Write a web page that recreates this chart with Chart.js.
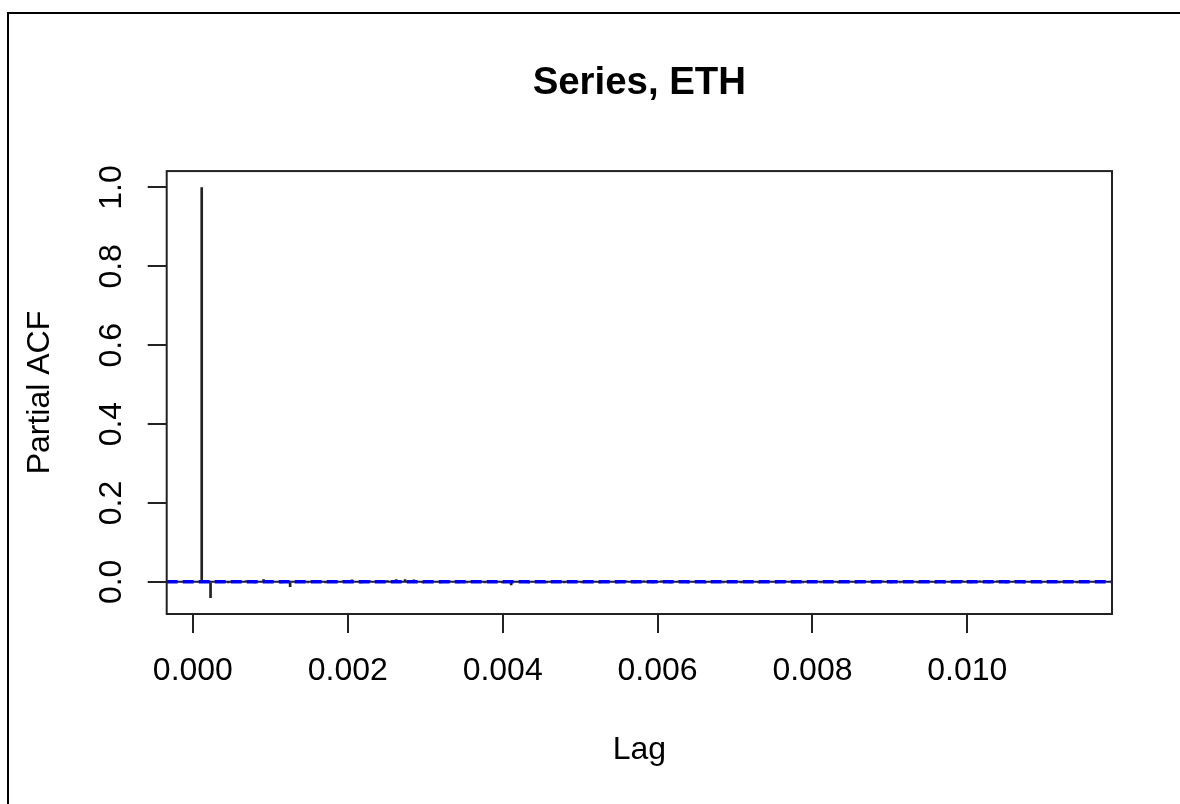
<!DOCTYPE html>
<html>
<head>
<meta charset="utf-8">
<script src="https://cdn.jsdelivr.net/npm/chart.js@4.4.1/dist/chart.umd.min.js"></script>
<style>
  html, body { margin: 0; padding: 0; background: #fff; overflow: hidden; }
  #frame { position: absolute; left: 7px; top: 12px; width: 2000px; height: 2000px;
           border-left: 2px solid #000; border-top: 2px solid #000; }
  #c { position: absolute; left: 0; top: 0; }
</style>
</head>
<body>
<div id="frame"></div>
<canvas id="c" width="1180" height="804"></canvas>
<script>
// ---- data ----
const titleText = 'Series, ETH';
const xTitle = 'Lag';
const yTitle = 'Partial ACF';
const frequency = 8760;            // hourly series: lag k is k / 8760
const confLimit = 0.002;           // +/- bound drawn as blue dashed lines
const pacfValues = [
  1.000, -0.040, 0.002, -0.001, 0.001, 0.002, -0.001, 0.006, 0.001, -0.002,
  -0.012, 0.001, -0.003, 0.001, -0.002, 0.001, 0.002, 0.005, -0.001, 0.002,
  0.001, 0.003, 0.006, 0.006, 0.005, -0.002, 0.001, -0.002, 0.001, -0.001,
  -0.003, 0.001, -0.002, 0.001, -0.001, -0.008, 0.001, -0.002, 0.001, -0.001,
  0.002, -0.001, 0.001, -0.002, 0.001, -0.001, 0.002, -0.001, 0.001, -0.002,
  0.001, -0.001, 0.001, -0.002, 0.001, -0.003, 0.001, -0.001, 0.002, -0.003,
  0.001, -0.001, 0.001, -0.002, 0.001, -0.001, 0.002, -0.001, -0.003, 0.001,
  -0.003, 0.001, -0.001, 0.002, -0.001, 0.001, -0.002, 0.001, -0.001, -0.003,
  0.001, -0.001, 0.002, -0.001, -0.003, 0.001, 0.003, -0.001, 0.001, -0.002,
  0.001, -0.001, 0.002, -0.003, 0.001, -0.003, 0.001, -0.001, 0.002, -0.001
];
const xTicks = [0.000, 0.002, 0.004, 0.006, 0.008, 0.010];
const yTicks = [0.0, 0.2, 0.4, 0.6, 0.8, 1.0];

// lag positions (categories)
const lags = pacfValues.map((_, i) => (i + 1) / frequency);

// R-style 4% axis extension
const xLo = lags[0], xHi = lags[lags.length - 1];
const xMin = xLo - 0.04 * (xHi - xLo), xMax = xHi + 0.04 * (xHi - xLo);
const yLo = Math.min(-confLimit, ...pacfValues), yHi = Math.max(confLimit, ...pacfValues);
const yMin = yLo - 0.04 * (yHi - yLo), yMax = yHi + 0.04 * (yHi - yLo);

const FONT = "'Liberation Sans', Arial, sans-serif";
const INK = '#222';

const boxPlugin = {
  id: 'rbox',
  afterDatasetsDraw(chart) {
    const { ctx, chartArea: a } = chart;
    ctx.save();
    ctx.strokeStyle = INK;
    ctx.lineWidth = 2;
    ctx.strokeRect(a.left, a.top, a.right - a.left, a.bottom - a.top);
    ctx.restore();
  }
};

new Chart(document.getElementById('c'), {
  type: 'bar',
  data: {
    datasets: [
      {
        type: 'line', order: 0,
        data: [{ x: xMin, y: confLimit }, { x: xMax, y: confLimit }],
        borderColor: '#0000ff', borderWidth: 2, borderDash: [11, 5],
        pointRadius: 0, fill: false
      },
      {
        type: 'line', order: 0,
        data: [{ x: xMin, y: -confLimit }, { x: xMax, y: -confLimit }],
        borderColor: '#0000ff', borderWidth: 2, borderDash: [11, 5],
        pointRadius: 0, fill: false
      },
      {
        type: 'line', order: 1,
        data: [{ x: xMin, y: 0 }, { x: xMax, y: 0 }],
        borderColor: INK, borderWidth: 2,
        pointRadius: 0, fill: false
      },
      {
        type: 'bar', order: 2,
        data: lags.map((l, i) => ({ x: l, y: pacfValues[i] })),
        backgroundColor: INK, borderWidth: 0,
        barThickness: 2
      }
    ]
  },
  options: {
    responsive: false,
    animation: false,
    devicePixelRatio: 1,
    layout: { padding: { left: 0, right: 68, top: 0, bottom: 0 } },
    plugins: {
      legend: { display: false },
      tooltip: { enabled: false },
      title: {
        display: true, text: titleText, fullSize: false,
        color: '#000',
        font: { family: FONT, size: 38.4, weight: 'bold', lineHeight: 1.2 },
        padding: { top: 60, bottom: 65 }
      }
    },
    scales: {
      x: {
        type: 'linear', offset: false, min: xMin, max: xMax,
        afterBuildTicks: s => { s.ticks = xTicks.map(v => ({ value: v })); },
        afterFit: s => { s.height = 190; },
        grid: { offset: false, drawOnChartArea: false, drawTicks: true, tickLength: 19, color: INK, lineWidth: 2 },
        border: { display: false },
        ticks: {
          color: '#000', padding: 19, maxRotation: 0, autoSkip: false,
          font: { family: FONT, size: 32, lineHeight: 1.2 },
          callback: v => Number(v).toFixed(3)
        },
        title: {
          display: true, text: xTitle, color: '#000',
          font: { family: FONT, size: 32, lineHeight: 1.2 },
          padding: { top: 0, bottom: 35 }
        }
      },
      y: {
        type: 'linear', min: yMin, max: yMax,
        afterBuildTicks: s => { s.ticks = yTicks.map(v => ({ value: v })); },
        afterFit: s => { s.width = 166.7; },
        grid: { offset: false, drawOnChartArea: false, drawTicks: true, tickLength: 19, color: INK, lineWidth: 2 },
        border: { display: false },
        ticks: {
          color: '#000', padding: 13, minRotation: 90, maxRotation: 90,
          crossAlign: 'center', autoSkip: false,
          font: { family: FONT, size: 32, lineHeight: 1.2 },
          callback: v => Number(v).toFixed(1)
        },
        title: {
          display: true, text: yTitle, color: '#000',
          font: { family: FONT, size: 32, lineHeight: 1.2 },
          padding: { top: 21, bottom: 0 }
        }
      }
    }
  },
  plugins: [boxPlugin]
});
</script>
</body>
</html>
